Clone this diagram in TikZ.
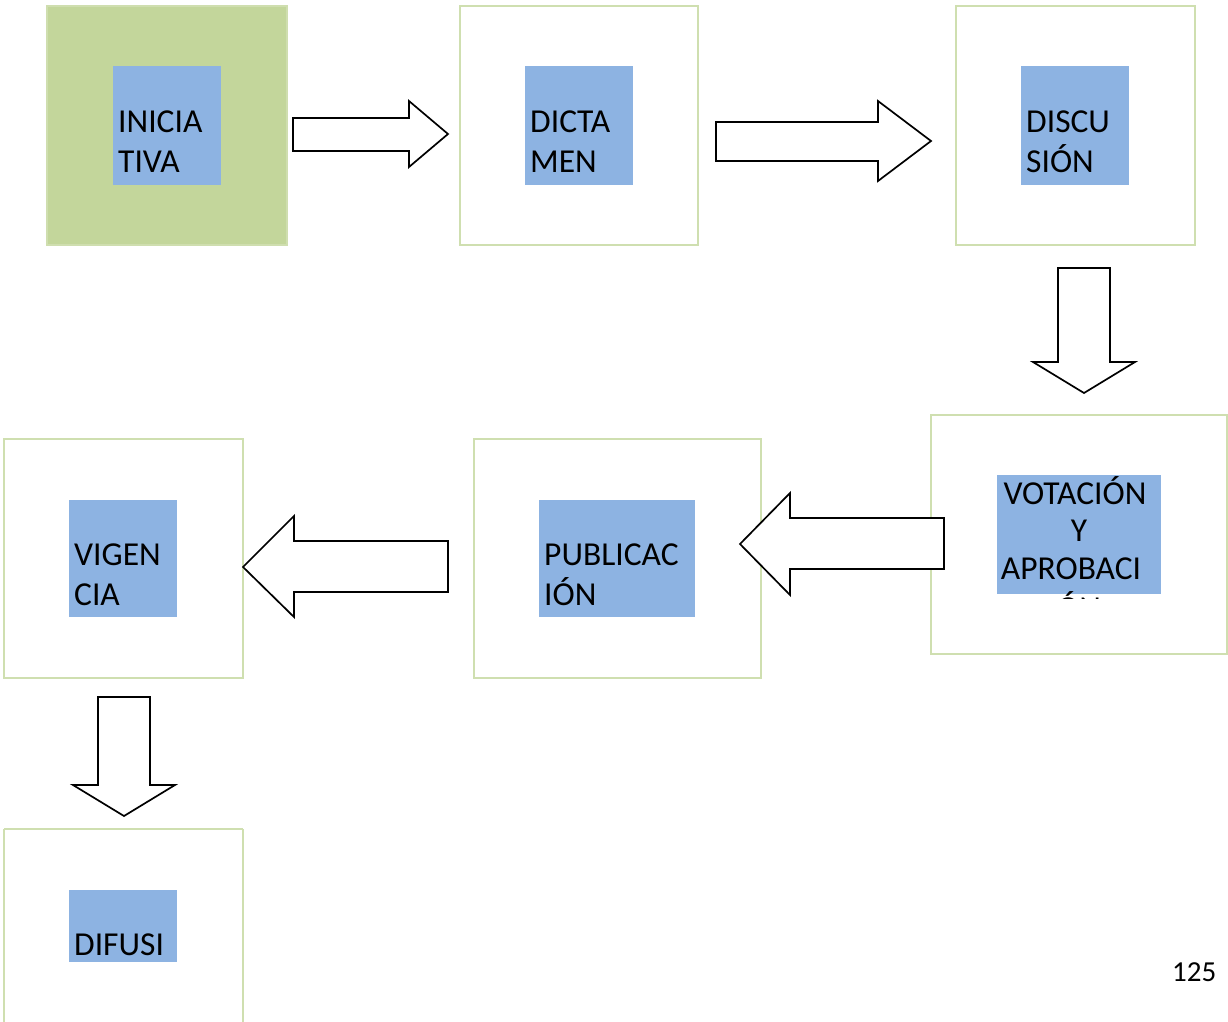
\documentclass[tikz,border=0pt]{standalone}
\usepackage{fontspec}
\setmainfont{Carlito}
\definecolor{boxgreen}{HTML}{C3D69B}
\definecolor{boxline}{HTML}{CFDFB0}
\definecolor{boxblue}{HTML}{8DB3E2}
\begin{document}
\begin{tikzpicture}[x=1pt,y=-1pt,
  outer/.style={draw=boxline,line width=1.2pt},
  inner/.style={fill=boxblue},
  lbl/.style={font=\fontsize{33.5}{40}\selectfont,inner sep=0pt,anchor=base west},
  lblc/.style={font=\fontsize{33.5}{40}\selectfont,inner sep=0pt,anchor=base},
  blockarrow/.style={draw=black,fill=white,line width=1.7pt,line join=miter}]
\useasboundingbox (0,0) rectangle (1228,1021);
\fill[white] (0,0) rectangle (1228,1021);
% outer boxes
\fill[boxgreen] (47,6) rectangle (287,245);
\draw[outer,draw=boxgreen!80!white] (47,6) rectangle (287,245);
\draw[outer] (460,6) rectangle (698,245);
\draw[outer] (956,6) rectangle (1195,245);
\draw[outer] (931,415) rectangle (1227,654);
\draw[outer] (474,439) rectangle (761,678);
\draw[outer] (4,439) rectangle (243,678);
\draw[outer] (4,829) -- (4,1030) (243,829) -- (243,1030) (4,829) -- (243,829);
% inner boxes
\fill[inner] (113,66) rectangle (221,185);
\fill[inner] (525,66) rectangle (633,185);
\fill[inner] (1021,66) rectangle (1129,185);
\fill[inner] (997,475) rectangle (1161,594);
\fill[inner] (539,500) rectangle (695,617);
\fill[inner] (69,500) rectangle (177,617);
\fill[inner] (69,890) rectangle (177,962);
% labels
\node[lbl] (ini1) at (118,132) {INICIA};
\node[lbl] (ini2) at (118,172) {TIVA};
\node[lbl] (dic1) at (530,132) {DICTA};
\node[lbl] (dic2) at (530,172) {MEN};
\node[lbl] (dis1) at (1026,132) {DISCU};
\node[lbl] (dis2) at (1026,172) {SIÓN};
\begin{scope}
\clip (931,415) rectangle (1227,598);
\node[lblc] (vot1) at (1075,504) {VOTACIÓN};
\node[lblc] (vot2) at (1079,541) {Y};
\node[lblc] (vot3) at (1071,579) {APROBACI};
\node[lblc] (vot4) at (1079,619) {ÓN};
\end{scope}
\node[lbl] (pub1) at (544,565) {PUBLICAC};
\node[lbl] (pub2) at (544,605) {IÓN};
\node[lbl] (vig1) at (74,565) {VIGEN};
\node[lbl] (vig2) at (74,605) {CIA};
\node[lbl] (dif1) at (74,955) {DIFUSI};
\node[font=\fontsize{29}{35}\selectfont,inner sep=0pt,anchor=base west] (page) at (1172,981) {125};
% block arrows
\draw[blockarrow] (293,118) -- (409,118) -- (409,101) -- (448,134) -- (409,167) -- (409,151) -- (293,151) -- cycle;
\draw[blockarrow] (716,122) -- (878,122) -- (878,101) -- (931,141) -- (878,181) -- (878,161) -- (716,161) -- cycle;
\draw[blockarrow] (1058,268) -- (1110,268) -- (1110,362) -- (1135,362) -- (1084,393) -- (1033,362) -- (1058,362) -- cycle;
\draw[blockarrow] (944,518) -- (790,518) -- (790,493) -- (740,544) -- (790,595) -- (790,569) -- (944,569) -- cycle;
\draw[blockarrow] (448,541) -- (294,541) -- (294,516) -- (243,567) -- (294,617) -- (294,592) -- (448,592) -- cycle;
\draw[blockarrow] (98,697) -- (150,697) -- (150,785) -- (175,785) -- (124,816) -- (73,785) -- (98,785) -- cycle;
\end{tikzpicture}
\end{document}
